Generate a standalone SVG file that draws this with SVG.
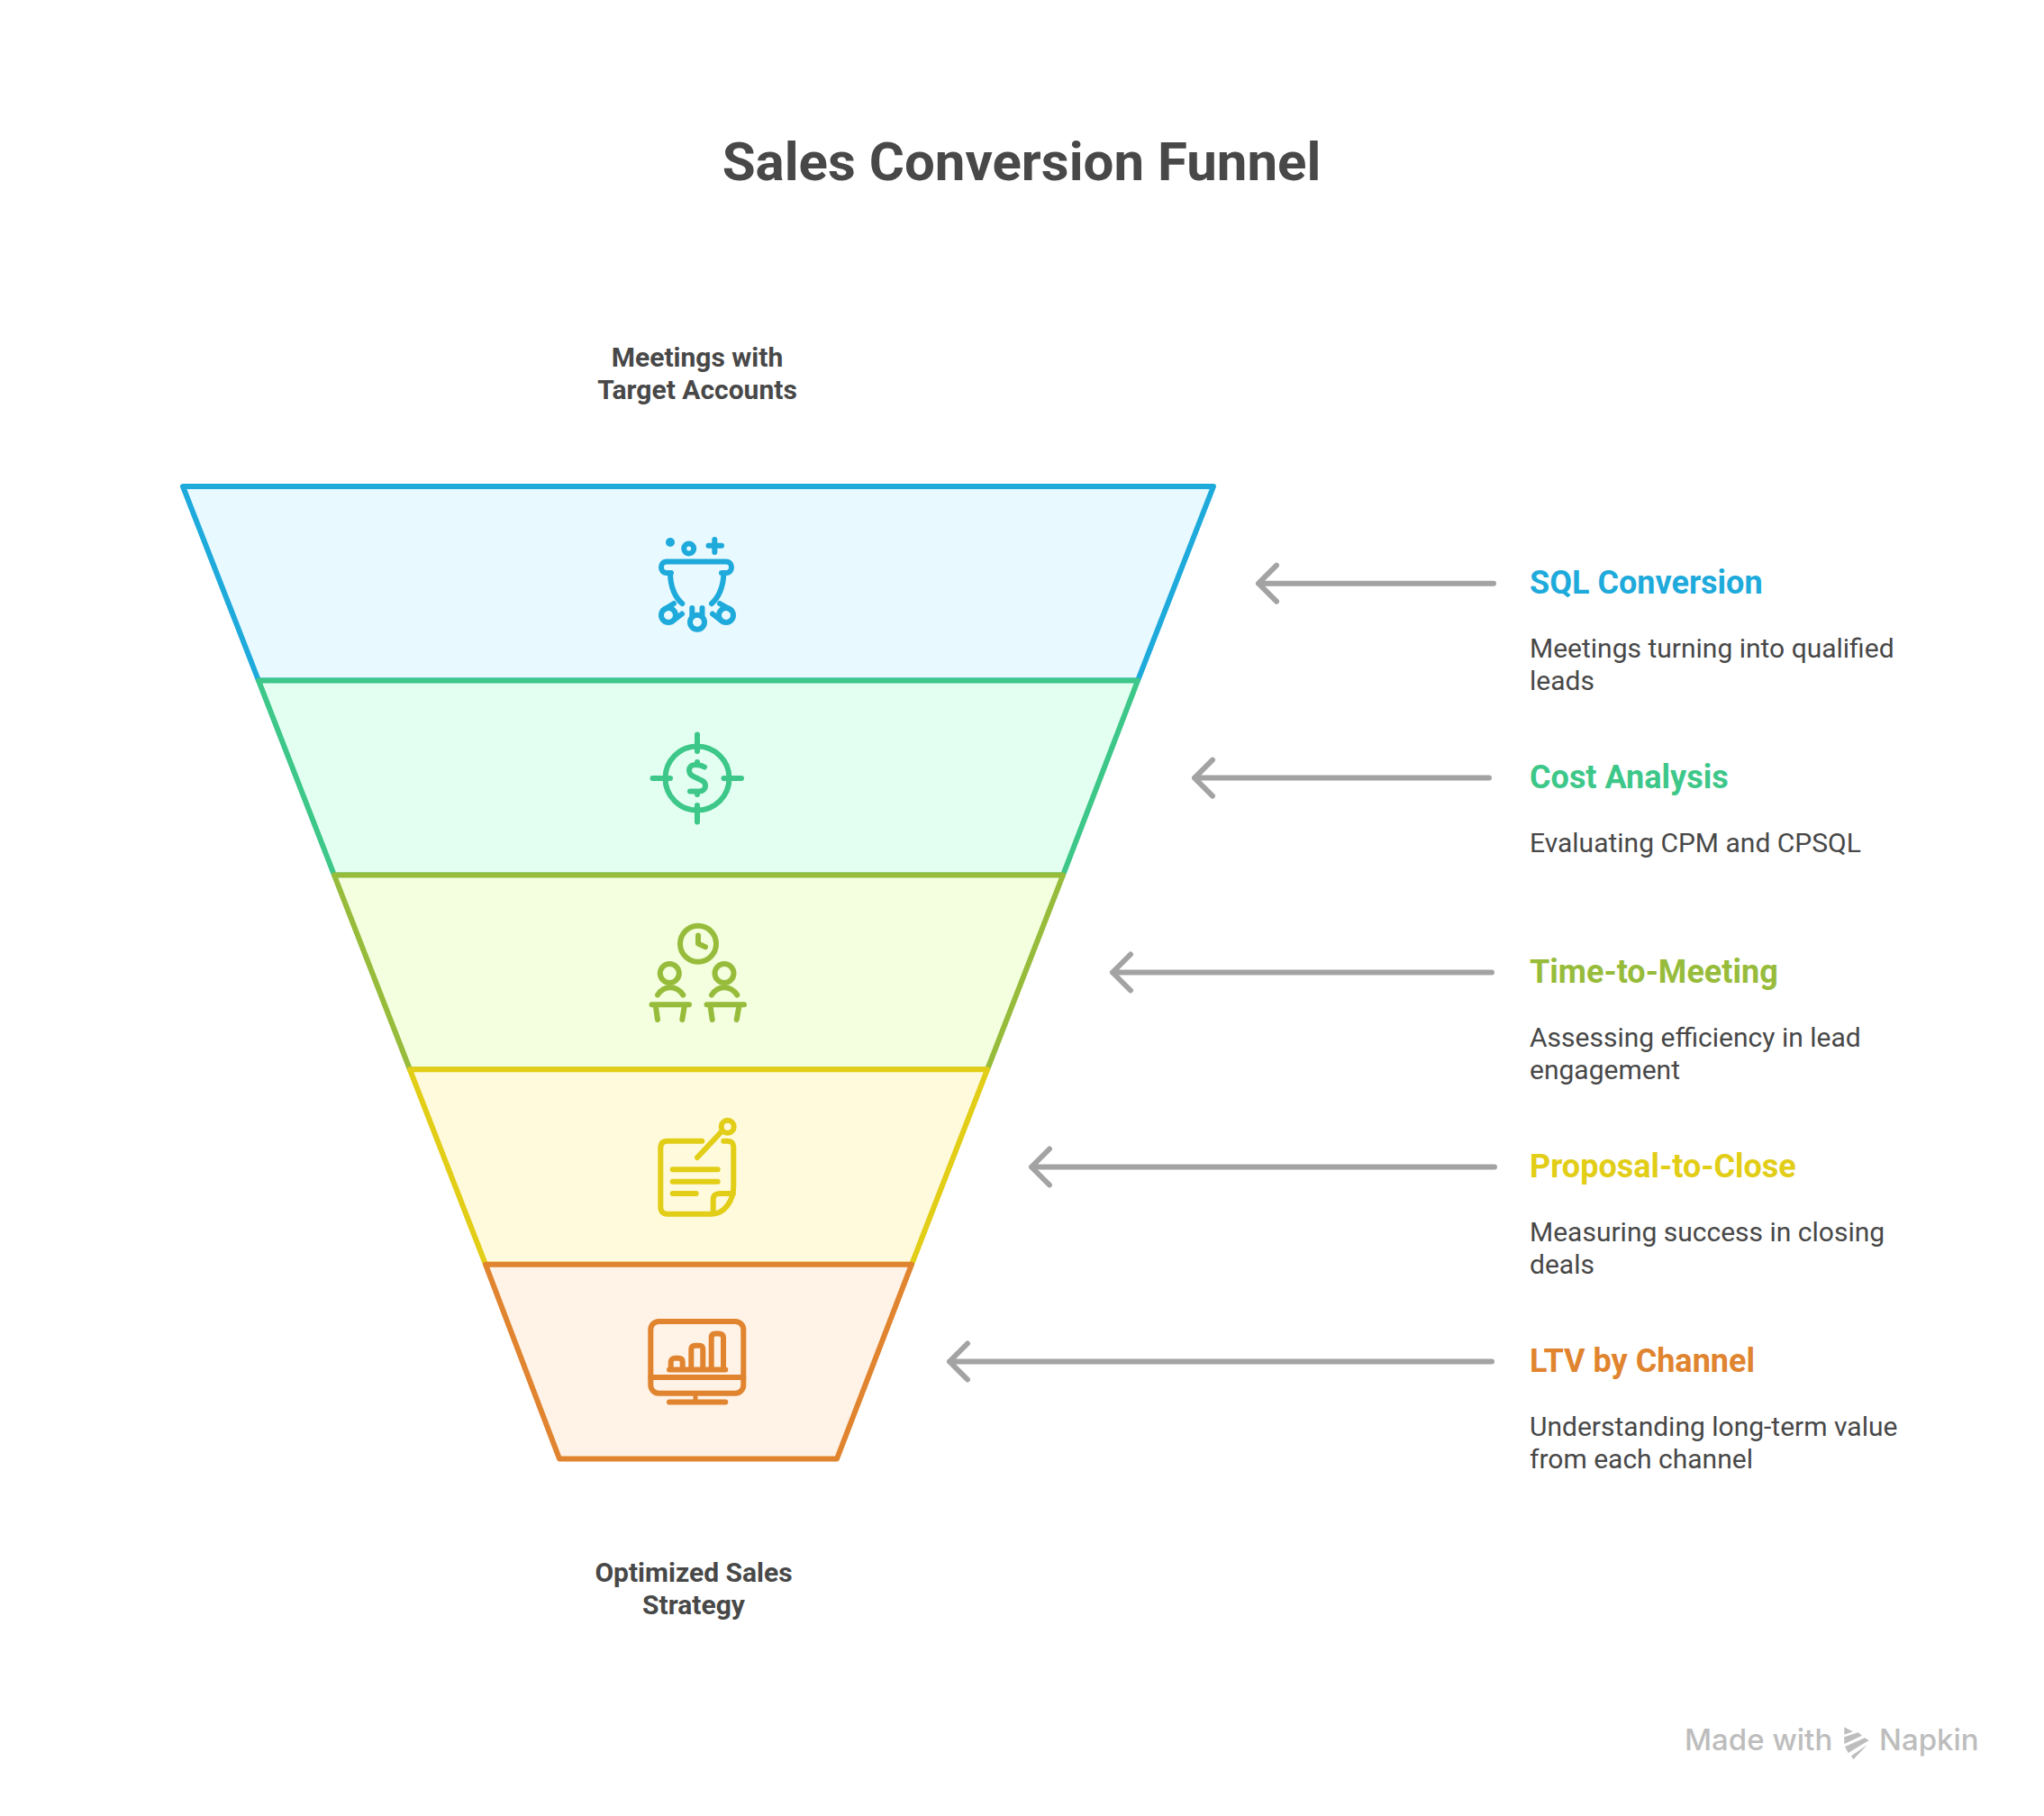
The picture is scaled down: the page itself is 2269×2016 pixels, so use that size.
<svg xmlns="http://www.w3.org/2000/svg" width="2269" height="2016" viewBox="0 0 2269 2016">
<style>
text{font-family:Roboto,"Liberation Sans",sans-serif}
.t{font-size:60px;font-weight:700;fill:#484848;text-anchor:middle}
.c{font-size:30px;font-weight:700;fill:#484848;text-anchor:middle}
.h{font-size:36px;font-weight:700}
.d{font-size:30px;fill:#484848}
.f{stroke-width:6;stroke-linejoin:round}
.i{fill:none;stroke-width:6;stroke-linecap:round;stroke-linejoin:round}
.a{fill:none;stroke:#a3a3a3;stroke-width:6;stroke-linecap:round;stroke-linejoin:round}
</style>
<rect width="2269" height="2016" fill="#fff"/>
<text class="t" x="1134" y="200">Sales Conversion Funnel</text>
<text class="c" x="774" y="407">Meetings with</text>
<text class="c" x="774" y="443">Target Accounts</text>
<text class="c" x="770" y="1756">Optimized Sales</text>
<text class="c" x="770" y="1792">Strategy</text>
<g id="stage-1"><path class="f" d="M203 540H1347L1263 755.5H287Z" fill="#e8f9ff" stroke="#1eaadb"/>
<g class="i" stroke="#1eaadb"><circle cx="744" cy="602" r="5" fill="#1eaadb" stroke="none"/><circle cx="764.7" cy="609" r="5.5"/><path d="M793.3 599V613M786.5 605.7H801M745 636H740C732 636 732 623.5 740 623.5H806C814 623.5 814 636 806 636H801M744 636C744 652 750 664 757.3 670M803.3 636C803.3 652 797 664 790 670"/>
<circle cx="742" cy="683" r="8"/><circle cx="806" cy="683" r="8"/><circle cx="774" cy="690.7" r="8"/>
<path d="M748 670L736 677.5M757 681.5L748 688.5M799 670L812 677.5M791 681.5L800 688.5M768.3 675V684M779.5 675V684"/></g></g>
<g id="stage-2"><path class="f" d="M287 755.5H1263L1180 971.5H371Z" fill="#e3fff1" stroke="#3dc789"/>
<g class="i" stroke="#3dc789"><circle cx="774" cy="864" r="35.5"/><path d="M774 815.5V834M774 894V912.5M724.5 864H744M803.5 864H823"/>
<path d="M782 851.5C778 849 775 849 772 849C767 849 765 852 765 855C765 861 770 862 774 864C779 866 783 868 783 872C783 876 780 878.5 776 878.5H766M774 846V849M774 879V882"/></g></g>
<g id="stage-3"><path class="f" d="M371 971.5H1180L1096 1187.3H455Z" fill="#f3ffde" stroke="#97bc3b"/>
<g class="i" stroke="#97bc3b"><circle cx="775" cy="1047.8" r="20"/><path d="M775 1038.5V1047.5L783 1051.2"/><circle cx="743.3" cy="1080.5" r="10.5"/><circle cx="804" cy="1080.5" r="10.5"/><path d="M730 1104.5C737 1093.5 751 1093.5 758.3 1104.5M790 1104.5C797 1093.5 811 1093.5 818.3 1104.5M723.5 1115.2H765M784.5 1115.2H826M727.7 1115.5L730 1132M760 1115.5L757.3 1132M788.3 1115.5L790.7 1132M820.7 1115.5L817.7 1132"/></g></g>
<g id="stage-4"><path class="f" d="M455 1187.3H1096L1012 1403.7H539Z" fill="#fffadc" stroke="#e2cd17"/>
<g class="i" stroke="#e2cd17"><circle cx="807.7" cy="1250.7" r="7"/><path d="M800 1257.3L774 1285M779.3 1266.7H741C736 1266.7 733.3 1269 733.3 1274V1340C733.3 1345 736 1347.7 741 1347.7H790C804 1347.7 814.3 1333 814.3 1317V1274C814.3 1269 812 1266.7 807 1266.7H803.3M746.7 1298.3H796.7M746.7 1311.7H796.7M746.7 1325H772.7M791.7 1347V1332C791.7 1327 794 1325 799 1325H814"/></g></g>
<g id="stage-5"><path class="f" d="M539 1403.7H1012L929 1619.5H621Z" fill="#fff2e6" stroke="#e0842f"/>
<g class="i" stroke="#e0842f"><rect x="722.3" y="1467" width="103" height="79.7" rx="9"/><path d="M722.3 1529H825.3M743 1520.4H805.3M743 1556.4H805.3M744.7 1520V1512C744.7 1509 747 1507.7 749 1507.7H753C756 1507.7 757.7 1509 757.7 1512V1520M767.3 1520V1498C767.3 1495 769 1493.7 772 1493.7H776C779 1493.7 780.3 1495 780.3 1498V1520M789.7 1520V1485C789.7 1482 791 1480.4 794 1480.4H798C801 1480.4 803 1482 803 1485V1520"/><path stroke-width="5" stroke-linecap="butt" d="M772 1548V1555"/></g></g>
<g id="connectors">
<path class="a" d="M1658 647.7H1397M1417 627.7L1397 647.7L1417 667.7"/>
<path class="a" d="M1653 863.6H1326M1346 843.6L1326 863.6L1346 883.6"/>
<path class="a" d="M1656 1079.5H1235M1255 1059.5L1235 1079.5L1255 1099.5"/>
<path class="a" d="M1659 1295.5H1145M1165 1275.5L1145 1295.5L1165 1315.5"/>
<path class="a" d="M1656 1511.5H1054M1074 1491.5L1054 1511.5L1074 1531.5"/>
</g>
<g id="label-1"><text class="h" x="1698" y="659" fill="#1eaadb">SQL Conversion</text><text class="d" x="1698" y="730">Meetings turning into qualified</text><text class="d" x="1698" y="766">leads</text></g>
<g id="label-2"><text class="h" x="1698" y="875" fill="#3dc789">Cost Analysis</text><text class="d" x="1698" y="946">Evaluating CPM and CPSQL</text></g>
<g id="label-3"><text class="h" x="1698" y="1091" fill="#97bc3b">Time-to-Meeting</text><text class="d" x="1698" y="1162">Assessing efficiency in lead</text><text class="d" x="1698" y="1198">engagement</text></g>
<g id="label-4"><text class="h" x="1698" y="1307" fill="#e2cd17">Proposal-to-Close</text><text class="d" x="1698" y="1378">Measuring success in closing</text><text class="d" x="1698" y="1414">deals</text></g>
<g id="label-5"><text class="h" x="1698" y="1523" fill="#e0842f">LTV by Channel</text><text class="d" x="1698" y="1594">Understanding long-term value</text><text class="d" x="1698" y="1630">from each channel</text></g>
<g id="watermark" fill="#bdbdbd"><text x="1870" y="1943" font-size="33" font-weight="500" style="font-family:Inter,Roboto,sans-serif">Made with</text><path d="M2047.3 1917.3L2056.7 1922.3L2047.3 1925.7ZM2047.3 1928.3L2062.7 1923.3L2067 1926.7L2047.3 1936ZM2048 1939L2070 1929.3L2074.7 1932L2051.7 1946ZM2055 1949.3L2073 1936.7L2057.3 1953.3Z"/><text x="2086" y="1943" font-size="33" font-weight="500" style="font-family:Inter,Roboto,sans-serif">Napkin</text></g>
</svg>
